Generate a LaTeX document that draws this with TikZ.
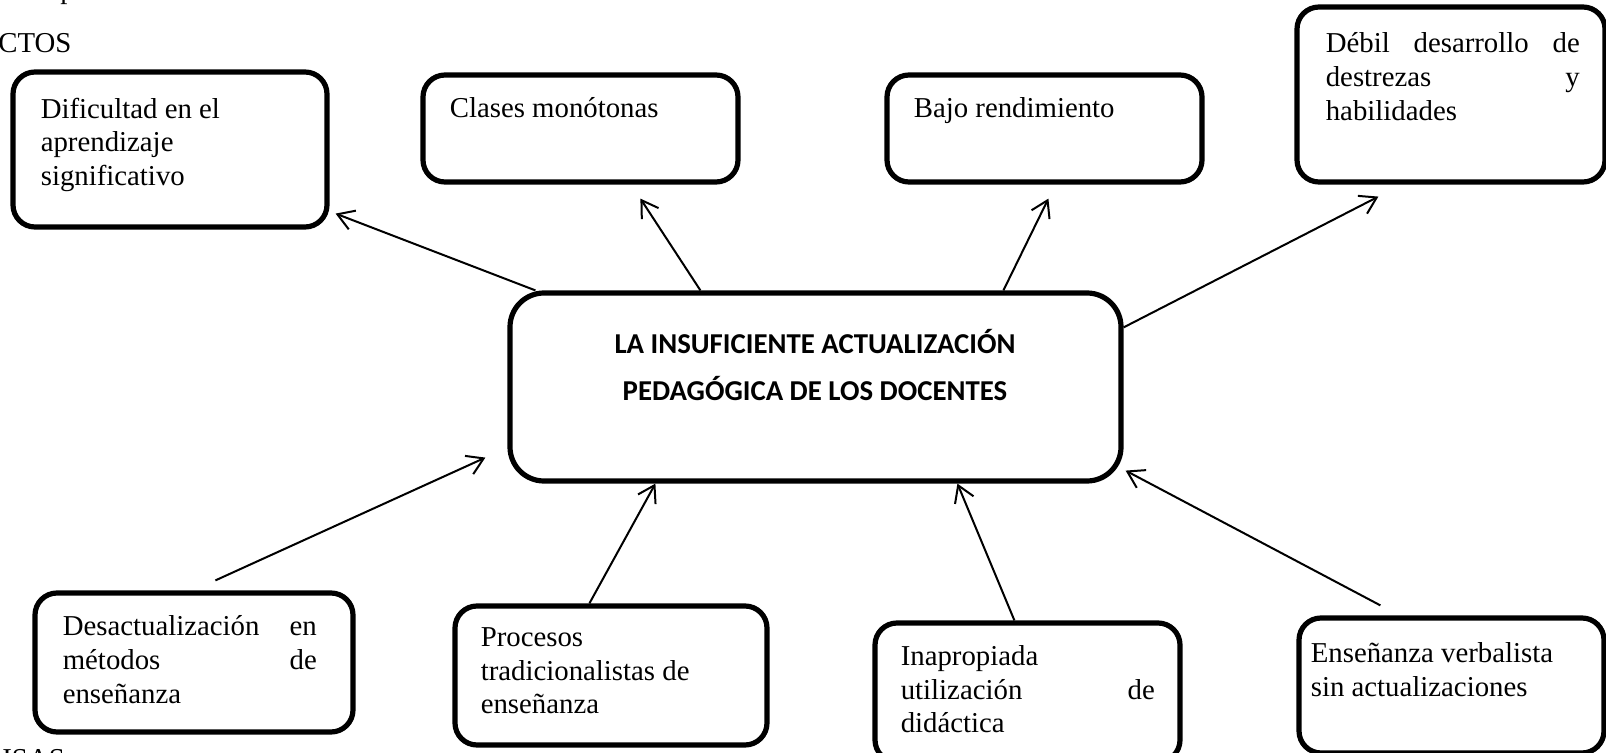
\documentclass[tikz,border=0pt]{standalone}
\usepackage{fontspec}
\setmainfont{Liberation Serif}
\newfontfamily\titlefont{Carlito}
\usetikzlibrary{arrows.meta,calc}

\begin{document}
\begin{tikzpicture}[x=0.5pt,y=-0.5pt]
 \tikzset{box/.style={draw, line width=2.6pt, rounded corners=11pt, inner sep=0pt}}
 \tikzset{txt/.style={anchor=north west, inner sep=0pt, align=left, font=\fontsize{14.4}{16.8}\selectfont}}
 \tikzset{cut/.style={anchor=base west, inner sep=0pt, font=\fontsize{14.4}{16.8}\selectfont}}
 \tikzset{arr/.style={line width=1pt, -{Straight Barb[length=8pt,width=10pt]}}}
 \def\u{0.5pt}
 \def\txtw{127pt}

 \useasboundingbox (0,0) rectangle (1606,753);
 \clip (0,0) rectangle (1606,753);

 % pieces of the page around the figure
 \node[cut] (frag) at (60,-1) {p};
 \node[cut] (efe) at (-2,53) {CTOS};
 \node[cut] (cau) at (2,768) {ISAS};

 % problem
 \node[box, rounded corners=17pt, minimum width=611*\u, minimum height=188*\u] (ctr) at (815.5,387) {};
 \node[font=\titlefont\bfseries\fontsize{14.4}{23.5}\selectfont, align=center] (ttl) at (815,365)
   {LA INSUFICIENTE ACTUALIZACIÓN\\PEDAGÓGICA DE LOS DOCENTES};

 % effects
 \node[box, minimum width=314*\u, minimum height=155*\u] (dif) at (170,149.5) {};
 \node[box, minimum width=315*\u, minimum height=107*\u] (cla) at (580.5,128.5) {};
 \node[box, minimum width=315*\u, minimum height=107*\u] (baj) at (1044.5,128.5) {};
 \node[box, minimum width=308*\u, minimum height=175*\u] (deb) at (1451,94.5) {};

 \node[txt] (difT) at ($(dif.north west)+(30,28)$) {Dificultad en el\\aprendizaje\\significativo};
 \node[txt] (claT) at ($(cla.north west)+(29,25)$) {Clases monótonas};
 \node[txt] (bajT) at ($(baj.north west)+(29,25)$) {Bajo rendimiento};
 \node[txt, text width=\txtw] (debT) at ($(deb.north west)+(31,28)$)
   {Débil\hfill desarrollo\hfill de\\destrezas\hfill y\\habilidades};

 % causes
 \node[box, minimum width=318*\u, minimum height=139*\u] (des) at (194,662.5) {};
 \node[box, minimum width=312*\u, minimum height=139*\u] (pro) at (611,675.5) {};
 \node[box, minimum width=305*\u, minimum height=139*\u] (ina) at (1027.5,692.5) {};
 \node[box, minimum width=305*\u, minimum height=135*\u] (ens) at (1451.5,685.5) {};

 \node[txt, text width=\txtw] (desT) at ($(des.north west)+(30,25)$)
   {Desactualización\hfill en\\métodos\hfill de\\enseñanza};
 \node[txt] (proT) at ($(pro.north west)+(28,24)$) {Procesos\\tradicionalistas de\\enseñanza};
 \node[txt, text width=\txtw] (inaT) at ($(ina.north west)+(28,25)$)
   {Inapropiada\\utilización\hfill de\\didáctica};
 \node[txt] (ensT) at ($(ens.north west)+(14,27)$) {Enseñanza verbalista\\sin actualizaciones};

 % arrows
 \draw[arr] ($(ctr.north west)+(28,0)$) -- ($(dif.south east)+(6,-16)$);
 \draw[arr] ($(ctr.north west)+(193,0)$) -- ($(cla.south west)+(220,14)$);
 \draw[arr] ($(ctr.north west)+(496,0)$) -- ($(baj.south west)+(164,14)$);
 \draw[arr] ($(ctr.north east)+(0,37)$) -- ($(deb.south west)+(84,12)$);
 \draw[arr] ($(des.north west)+(183,-10)$) -- ($(ctr.south west)+(-22,-26)$);
 \draw[arr] ($(pro.north west)+(137,0)$) -- ($(ctr.south west)+(148,0)$);
 \draw[arr] ($(ina.north west)+(142,0)$) -- ($(ctr.south west)+(450,0)$);
 \draw[arr] ($(ens.north west)+(84,-10)$) -- ($(ctr.south east)+(2,-13)$);

\end{tikzpicture}
\end{document}
